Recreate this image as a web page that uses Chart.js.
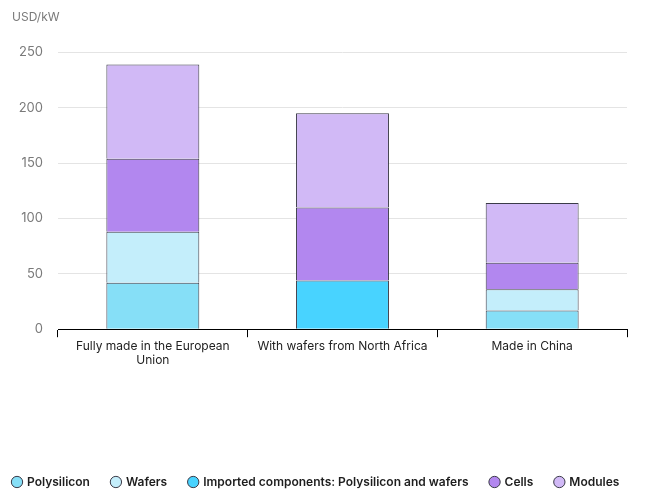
<!DOCTYPE html>
<html>
<head>
<meta charset="utf-8">
<script src="https://cdn.jsdelivr.net/npm/chart.js@4"></script>
<style>
  html, body { margin: 0; padding: 0; background: #fff; }
  #wrap { width: 659px; height: 501px; }
</style>
</head>
<body>
<div id="wrap"><canvas id="chart"></canvas></div>
<script>
const categories = [['Fully made in the European', 'Union'], 'With wafers from North Africa', 'Made in China'];
const polysilicon = [42, null, 17];
const wafers = [46, null, 19];
const imported = [null, 44, null];
const cells = [66, 66, 24];
const modules = [85, 85, 54];
const yTicks = [0, 50, 100, 150, 200, 250];

const edge = '#3b3b48';
const ds = (label, data, color) => ({
  label: label,
  data: data,
  backgroundColor: color,
  borderColor: edge,
  borderWidth: 1,
  barPercentage: 0.98,
  categoryPercentage: 0.5,
});

// nudge title and legend so they line up with the left edge like the original
const shiftBlocks = {
  id: 'shiftBlocks',
  afterLayout(chart) {
    chart.titleBlock.left += 12;
    chart.titleBlock.right += 12;
    chart.legend.left -= 9;
    chart.legend.right -= 9;
  },
};

const ctx = document.getElementById('chart').getContext('2d');
new Chart(ctx, {
  type: 'bar',
  data: {
    labels: categories,
    datasets: [
      ds('Polysilicon', polysilicon, '#86dff7'),
      ds('Wafers', wafers, '#c4eefb'),
      ds('Imported components: Polysilicon and wafers', imported, '#48d3ff'),
      ds('Cells', cells, '#b287ef'),
      ds('Modules', modules, '#d1b9f6'),
    ],
  },
  plugins: [shiftBlocks],
  options: {
    responsive: true,
    maintainAspectRatio: false,
    animation: false,
    layout: { padding: { left: 0, right: 2, top: 10, bottom: 3 } },
    plugins: {
      title: {
        display: true,
        text: 'USD/kW',
        align: 'start',
        color: '#7a7a7a',
        font: { family: 'Inter', size: 12, weight: 'normal' },
        padding: { top: 0, bottom: 28 },
      },
      legend: {
        position: 'bottom',
        align: 'start',
        labels: {
          usePointStyle: true,
          pointStyle: 'circle',
          boxWidth: 8,
          boxHeight: 8,
          padding: 22,
          color: '#1e1e1e',
          font: { family: 'Inter', size: 12, weight: '600' },
        },
      },
      tooltip: { enabled: false },
    },
    scales: {
      x: {
        stacked: true,
        grid: { offset: true, drawOnChartArea: false, color: '#000', tickLength: 8 },
        border: { color: '#000', width: 1 },
        ticks: { color: '#222', font: { family: 'Inter', size: 12 }, maxRotation: 0, padding: 2 },
        afterFit: (scale) => { scale.height += 84; },
      },
      y: {
        stacked: true,
        min: 0,
        max: 250,
        afterBuildTicks: (scale) => { scale.ticks = yTicks.map(v => ({ value: v })); },
        afterFit: (scale) => { scale.width = 58; },
        grid: { color: '#e4e4e4', drawTicks: false },
        border: { display: false },
        ticks: { color: '#7a7a7a', padding: 15, font: { family: 'Inter', size: 13 } },
      },
      spacer: {
        type: 'linear',
        position: 'right',
        grid: { display: false },
        border: { display: false },
        ticks: { display: false },
        afterFit: (scale) => { scale.width = 30; },
      },
    },
  },
});
</script>
</body>
</html>
